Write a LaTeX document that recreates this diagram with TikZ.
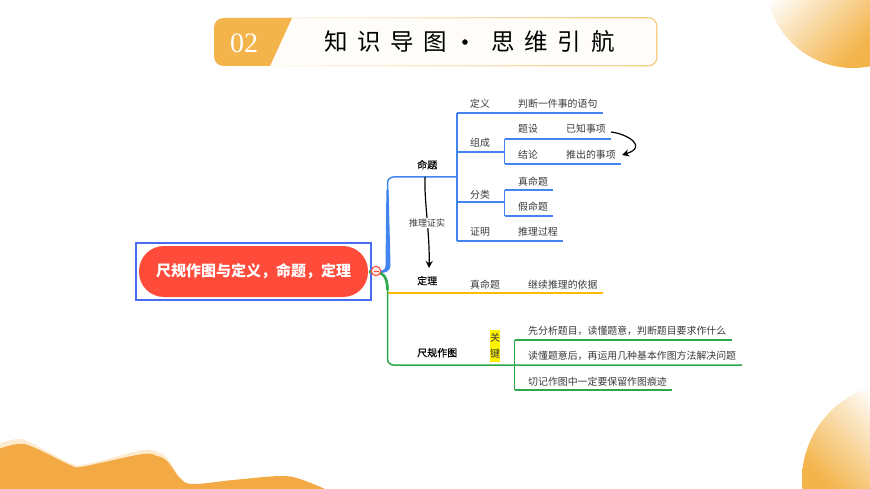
\documentclass[tikz,border=0pt]{standalone}
\usepackage{fontspec}
\setmainfont{Noto Sans CJK SC}
\usepackage{tikz}
\usetikzlibrary{arrows.meta}
\definecolor{badgeorange}{HTML}{F3B44B}
\definecolor{waveorange}{HTML}{F3AA45}
\definecolor{wavepale}{HTML}{FDEBCF}
\definecolor{framegold}{HTML}{F5C678}
\definecolor{rootred}{HTML}{FF4B3A}
\definecolor{rootblue}{HTML}{4A6CF0}
\definecolor{linkblue}{HTML}{4285EE}
\definecolor{linkgreen}{HTML}{2BA84A}
\definecolor{linkyellow}{HTML}{FFB900}
\definecolor{labelgray}{HTML}{3A3A3A}
\tikzstyle{leaf}=[anchor=west,inner sep=0pt,text=labelgray,yshift=-0.7pt,
                  font=\fontsize{9.9}{12}\selectfont]
\tikzstyle{topic}=[anchor=west,inner sep=0pt,text=black,yshift=-0.7pt,
                  font=\fontsize{10}{12}\selectfont\addfontfeature{FakeBold=0.5}]
\tikzstyle{bluelink}=[draw=linkblue,line width=1.5pt]
\tikzstyle{greenlink}=[draw=linkgreen,line width=1.5pt]
\tikzstyle{yellowlink}=[draw=linkyellow,line width=1.5pt]
\tikzstyle{blackarc}=[draw=black,line width=1.2pt,-{Stealth[length=7pt,width=7pt]}]

\begin{document}
\begin{tikzpicture}[x=1pt,y=-1pt]
    \useasboundingbox (0,0) rectangle (870,489);
    \clip (0,0) rectangle (870,489);
    % corner decoration
    \begin{scope}
      \clip (853,-19) circle (87);
      \shade[left color=white,middle color=white!62!badgeorange,right color=badgeorange,
        shading angle=45] (770,-32) rectangle (870,68);
    \end{scope}
    \begin{scope}
      \clip (899,480) circle (97);
      \shade[left color=badgeorange,middle color=white!62!badgeorange,right color=white,
        shading angle=135] (802,389) rectangle (902,489);
    \end{scope}
    \fill[wavepale] plot[smooth,tension=0.6] coordinates {(-2,444) (18,439) (33,444)
      (70,463) (80,465) (100,461) (143,450) (157,452) (167,458) (180,478)}
      -- (180,489) -- (-2,489) -- cycle;
    \fill[waveorange] plot[smooth,tension=0.6] coordinates {(-2,449) (18,444) (33,447)
      (70,465) (80,467) (100,463) (143,454) (157,456) (167,461) (180,478) (193,484)
      (233,480) (280,476) (300,479) (325,489)} -- (-2,489) -- cycle;
    % title bar
    \shade[left color=white,right color=framegold,rounded corners=9pt]
      (225,17.2) rectangle (657.4,66.4);
    \fill[color=white!97!badgeorange,rounded corners=8pt] (226,18.4) rectangle (656.2,65.2);
    \fill[badgeorange] (292,18) -- (270,66) -- (224,66)
      .. controls (218,66) and (214,62) .. (214,56) -- (214,28)
      .. controls (214,22) and (218,18) .. (224,18) -- cycle;
    \node (num) at (244,43) [text=white,inner sep=0pt,
      font=\fontsize{28}{30}\selectfont\fontspec{Liberation Serif}]{02};
    \node (title) at (324,42) [anchor=west,text=black,inner sep=0pt,
      font=\fontsize{23.5}{26}\selectfont\addfontfeature{LetterSpace=41.5}]
      {知识导图\makebox[44pt][l]{\makebox[35pt]{\addfontfeature{FakeBold=1.5}•}}思维引航};
    % root
    \node (outer) at (253.5,271.5) [draw=rootblue,line width=1.4pt,
      minimum width=235pt,minimum height=57pt,inner sep=0pt]{};
    \node (root) at (253.5,271.5) [fill=rootred,rounded corners=25pt,text=white,
      minimum width=229pt,minimum height=51pt,inner sep=0pt,
      font=\fontsize{15}{18}\selectfont\bfseries]{\raisebox{-1.2pt}{尺规作图与定义，命题，定理}};
    % junction points
    \coordinate (hub) at (369,272);
    \coordinate (b0) at (387.5,177);
    \coordinate (b1) at (457,177);
    \coordinate (b1a) at (457,113);
    \coordinate (b1b) at (457,152);
    \coordinate (b1c) at (457,202);
    \coordinate (b1d) at (457,241);
    \coordinate (e1a) at (603,113);
    \coordinate (e1d) at (563,241);
    \coordinate (c2a) at (504.5,152);
    \coordinate (c2t) at (504.5,139);
    \coordinate (c2b) at (504.5,164);
    \coordinate (e2t) at (611,139);
    \coordinate (e2b) at (621,164);
    \coordinate (c3a) at (504.5,202);
    \coordinate (c3t) at (504.5,190);
    \coordinate (c3b) at (504.5,216);
    \coordinate (e3t) at (553,190);
    \coordinate (e3b) at (553,216);
    \coordinate (y0) at (388,293);
    \coordinate (y1) at (603,293);
    \coordinate (g0) at (387.5,365);
    \coordinate (g1) at (742,365);
    \coordinate (g2) at (514.5,365);
    \coordinate (g2t) at (514.5,340);
    \coordinate (g2b) at (514.5,390);
    \coordinate (e4t) at (732,340);
    \coordinate (e4b) at (672,390);
    % blue branch
    \fill[linkblue] (hub) ++(0,-1.5) -- (380,270.5)
      .. controls (384,270.5) and (385.4,269) .. (385.5,265) -- (386.4,190) -- (388.6,190) -- (390.5,265)
      .. controls (390.5,271) and (386,273) .. (380,273) -- (hub) -- cycle;
    \draw[bluelink,rounded corners=6pt] (387.5,268) -- (b0) -- (b1);
    \draw[bluelink] (b1a) -- (b1d);
    \draw[bluelink] (b1a) -- (e1a);
    \draw[bluelink] (b1b) -- (c2a);
    \draw[bluelink] (b1c) -- (c3a);
    \draw[bluelink] (b1d) -- (e1d);
    \draw[bluelink] (c2t) -- (c2b);
    \draw[bluelink] (c2t) -- (e2t);
    \draw[bluelink] (c2b) -- (e2b);
    \draw[bluelink] (c3t) -- (c3b);
    \draw[bluelink] (c3t) -- (e3t);
    \draw[bluelink] (c3b) -- (e3b);
    % yellow branch
    \draw[yellowlink] (y0) -- (y1);
    % green branch
    \draw[draw=linkgreen,line width=2.6pt] (hub) -- (376,272)
      .. controls (382,272) and (387.5,276) .. (387.5,290);
    \draw[greenlink,rounded corners=6pt] (387.5,285) -- (g0) -- (g1);
    \draw[greenlink] (g2t) -- (g2b);
    \draw[greenlink] (g2t) -- (e4t);
    \draw[greenlink] (g2b) -- (e4b);
    % collapse mark
    \node (minus) at (376,271) [circle,draw=rootred,fill=white!88!rootred,line width=1pt,
      minimum size=9.5pt,inner sep=0pt]{};
    \draw[draw=rootred,line width=1pt] ([xshift=-2.5pt]minus.center) -- ([xshift=2.5pt]minus.center);
    % topics
    \node (prop) at (417,164) [topic]{命题};
    \node (thm) at (417,280) [topic]{定理};
    \node (con) at (417,352) [topic]{尺规作图};
    % first branch labels
    \node (def) at (470,103) [leaf]{定义};
    \node (defa) at (518,103) [leaf]{判断一件事的语句};
    \node (comp) at (470,142) [leaf]{组成};
    \node (cond) at (518,128) [leaf]{题设};
    \node (conda) at (566,128) [leaf]{已知事项};
    \node (conc) at (518,154) [leaf]{结论};
    \node (conca) at (566,154) [leaf]{推出的事项};
    \node (kind) at (470,194) [leaf]{分类};
    \node (kinda) at (518,181) [leaf]{真命题};
    \node (kindb) at (518,206) [leaf]{假命题};
    \node (proof) at (470,231) [leaf]{证明};
    \node (proofa) at (518,231) [leaf]{推理过程};
    % second branch labels
    \node (thma) at (470,284) [leaf]{真命题};
    \node (thmb) at (528,284) [leaf]{继续推理的依据};
    % third branch labels
    \node (key) at (495,346) [fill=yellow,text=labelgray,inner sep=0pt,
      minimum width=10pt,minimum height=32pt,align=center,
      font=\fontsize{10}{16}\selectfont]{\raisebox{-0.7pt}{关}\\\raisebox{-0.7pt}{键}};
    \node (cona) at (528,330) [leaf]{先分析题目，读懂题意，判断题目要求作什么};
    \node (conb) at (528,355) [leaf]{读懂题意后，再运用几种基本作图方法解决问题};
    \node (conc3) at (528,381) [leaf]{切记作图中一定要保留作图痕迹};
    % relation arrows
    \coordinate (s1) at (611,132);
    \coordinate (s2) at (622,155);
    \draw[blackarc] (s1) .. controls (628,134) and (648,147) .. (s2);
    \draw[blackarc] (425,177) .. controls (424,200) and (430,235) .. (429,268);
    \node (rel) at (427,223) [fill=white,text=labelgray,inner sep=1pt,
      font=\fontsize{9}{11}\selectfont]{推理证实};
\end{tikzpicture}
\end{document}
